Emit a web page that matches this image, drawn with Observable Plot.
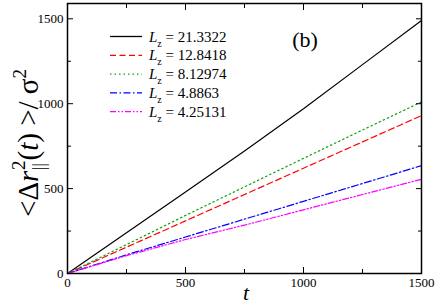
<!DOCTYPE html>
<html><head><meta charset="utf-8">
<script src="https://cdn.jsdelivr.net/npm/d3@7"></script>
<script src="https://cdn.jsdelivr.net/npm/@observablehq/plot@0.6"></script>
<style>
body{margin:0;background:#fff}
#chart{width:436px;height:304px}
</style>
</head><body><div id="chart"></div>
<script>
// time values
const t = [0, 250, 500, 750, 1000, 1250, 1500];
// series values (MSD parallel)
const lz21 = [0, 240, 480, 722, 970, 1230, 1490];
const lz12 = [0, 155, 310, 465, 620, 775, 930];
const lz8  = [0, 170, 342, 510, 678, 845, 1010];
const lz4a = [0, 110, 215, 320, 425, 530, 635];
const lz4b = [0, 105, 200, 285, 375, 465, 555];
const seriesNames = ["21.3322", "12.8418", "8.12974", "4.8863", "4.25131"];
const seriesValues = [lz21, lz12, lz8, lz4a, lz4b];
const colors = ["#000000", "#ff0000", "#12a012", "#0000ff", "#ff00ff"];
const dashes = [null, "6,3.5", "1.5,3", "7,2.5,1.5,2.5", "6,2,1.5,2,1.5,2"];
const xTicks = [0, 500, 1000, 1500];
const xMinor = [250, 750, 1250];
const yTicks = [0, 500, 1000, 1500];
const yMinor = [250, 750, 1250];

const rows = [];
seriesNames.forEach((n, i) => t.forEach((tt, j) => rows.push({series: n, t: tt, v: seriesValues[i][j]})));

const serif = "Times New Roman, Liberation Serif, serif";
const nolab = () => "";
const fmt = d => String(d);
const plot = Plot.plot({
  width: 436, height: 304,
  marginLeft: 67, marginRight: 15, marginTop: 3, marginBottom: 31,
  style: {fontFamily: "serif", fontSize: "13px", color: "#000", background: "#fff"},
  x: {domain: [0, 1500]},
  y: {domain: [0, 1590]},
  marks: [
    ...seriesNames.map((n, i) => Plot.line(rows.filter(r => r.series === n),
      {x: "t", y: "v", stroke: colors[i], strokeWidth: 1.2, strokeDasharray: dashes[i]})),
    Plot.axisX(xTicks, {anchor: "bottom", tickSize: 0, tickPadding: 4, label: null, fontSize: 13, tickFormat: fmt}),
    Plot.axisY(yTicks, {anchor: "left", tickSize: 0, tickPadding: 4, label: null, fontSize: 13, tickFormat: fmt}),
    Plot.axisX(xTicks, {anchor: "bottom", tickSize: -6, tickFormat: nolab, label: null}),
    Plot.axisX(xMinor, {anchor: "bottom", tickSize: -4, tickFormat: nolab, label: null}),
    Plot.axisX(xTicks, {anchor: "top", tickSize: -6, tickFormat: nolab, label: null}),
    Plot.axisX(xMinor, {anchor: "top", tickSize: -4, tickFormat: nolab, label: null}),
    Plot.axisY(yTicks, {anchor: "left", tickSize: -6, tickFormat: nolab, label: null}),
    Plot.axisY(yMinor, {anchor: "left", tickSize: -4, tickFormat: nolab, label: null}),
    Plot.axisY(yTicks, {anchor: "right", tickSize: -6, tickFormat: nolab, label: null}),
    Plot.axisY(yMinor, {anchor: "right", tickSize: -4, tickFormat: nolab, label: null}),
    Plot.frame({stroke: "#000", strokeWidth: 1.5})
  ]
});
document.getElementById("chart").appendChild(plot);

const svg = d3.select(plot);
// x-axis title
svg.append("text").attr("x", 246).attr("y", 300).attr("text-anchor", "middle")
  .attr("font-size", 22).attr("font-style", "italic").text("t");
// y-axis title
const yl = svg.append("text").attr("transform", "translate(38,143) rotate(-90)")
  .attr("text-anchor", "middle").attr("font-size", 29);
yl.append("tspan").text("<Δ");
yl.append("tspan").attr("font-style", "italic").text("r");
yl.append("tspan").attr("dy", 7).attr("font-size", 19).text("||");
yl.append("tspan").attr("dx", -7).attr("dy", -20).attr("font-size", 19).text("2");
yl.append("tspan").attr("dy", 13).text("(");
yl.append("tspan").attr("font-style", "italic").text("t");
yl.append("tspan").text(") >/ σ");
yl.append("tspan").attr("dy", -12).attr("font-size", 19).text("2");

// panel tag
svg.append("text").attr("x", 305).attr("y", 47).attr("text-anchor", "middle")
  .attr("font-size", 22).text("(b)");

// legend
const lg = svg.append("g");
seriesNames.forEach((n, i) => {
  const y = 36.5 + i * 18.8;
  lg.append("line").attr("x1", 110).attr("x2", 142).attr("y1", y).attr("y2", y)
    .attr("stroke", colors[i]).attr("stroke-width", 1.3).attr("stroke-dasharray", dashes[i]);
  const tx = lg.append("text").attr("x", 149).attr("y", y + 5).attr("text-anchor", "start")
    .attr("font-size", 15);
  tx.append("tspan").attr("font-style", "italic").text("L");
  tx.append("tspan").attr("dy", 5).attr("font-size", 10).text("z");
  tx.append("tspan").attr("dy", -5).text(" = " + n);
});
svg.attr("font-family", serif);
svg.selectAll("text").attr("font-family", serif);
</script></body></html>
